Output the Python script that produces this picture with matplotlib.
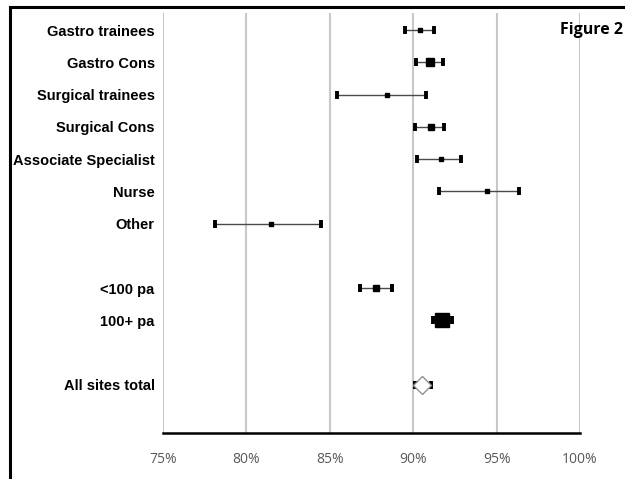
import numpy as np
import matplotlib.pyplot as plt
from matplotlib.lines import Line2D

# Forest plot of percentage with 95% CI by group
groups = ["Gastro trainees", "Gastro Cons", "Surgical trainees", "Surgical Cons",
          "Associate Specialist", "Nurse", "Other", "",
          "<100 pa", "100+ pa", "", "All sites total"]
estimate = [90.4, 91.0, 88.4, 91.05, 91.65, 94.4, 81.5, np.nan, 87.75, 91.75, np.nan, 90.55]
ci_low = [89.5, 90.15, 85.45, 90.1, 90.25, 91.55, 78.1, np.nan, 86.8, 91.2, np.nan, 90.1]
ci_high = [91.25, 91.8, 90.75, 91.85, 92.85, 96.35, 84.5, np.nan, 88.7, 92.3, np.nan, 91.05]
xtick_vals = [75, 80, 85, 90, 95, 100]

# marker size (points) per row, last row is the pooled diamond
msize = [3.5, 6, 3, 4.5, 3, 3, 3, 0, 5, 10.5, 0, 12]

fig = plt.figure(figsize=(6.25, 4.79), dpi=100)
ax = fig.add_axes([163 / 625, 46 / 479, 417 / 625, 420 / 479])

y = np.arange(len(groups))
est = np.array(estimate)
lo = est - np.array(ci_low)
hi = np.array(ci_high) - est

eb = ax.errorbar(est, y, xerr=[lo, hi], fmt="none", ecolor="#4a4a4a", elinewidth=1.0,
                 capsize=3.2, capthick=2.8, zorder=3)
for cap in eb[1]:
    cap.set_markeredgecolor("black")
    cap.set_markerfacecolor("black")

for i in range(len(groups)):
    if np.isnan(est[i]):
        continue
    if groups[i] == "All sites total":
        ax.plot(est[i], y[i], marker="D", markersize=msize[i] * 0.78, markerfacecolor="white",
                markeredgecolor="#909090", markeredgewidth=1.0, zorder=4)
    else:
        ax.plot(est[i], y[i], marker="s", markersize=msize[i], color="black", zorder=4)

ax.set_xlim(75, 100)
ax.set_ylim(12.49, -0.53)
ax.set_xticks(xtick_vals)
ax.set_xticklabels([f"{v}%" for v in xtick_vals], fontfamily="Open Sans", fontsize=10,
                   color="#595959")
ax.set_yticks(y)
ax.set_yticklabels(groups, fontfamily="Liberation Sans", fontweight="bold", fontsize=10.5)
ax.tick_params(axis="x", length=0, pad=14)
ax.tick_params(axis="y", length=0, pad=6)

ax.grid(axis="x", color="#c8c8c8", linewidth=1.5)
ax.set_axisbelow(True)
for s in ["top", "right", "left"]:
    ax.spines[s].set_visible(False)
ax.spines["bottom"].set_linewidth(1.8)
ax.spines["bottom"].set_zorder(5)

# frame around the figure (top and left edges)
fig.add_artist(Line2D([10 / 625, 10 / 625], [0, 1 - 7 / 479], color="black", linewidth=2.2))
fig.add_artist(Line2D([10 / 625, 1], [1 - 7 / 479, 1 - 7 / 479], color="black", linewidth=2.2))

fig.text(560 / 625, 1 - 30 / 479, "Figure 2", fontfamily="Open Sans", fontweight="bold",
         fontsize=11.5, va="center", ha="left")

fig.savefig("out.png", dpi=100)
